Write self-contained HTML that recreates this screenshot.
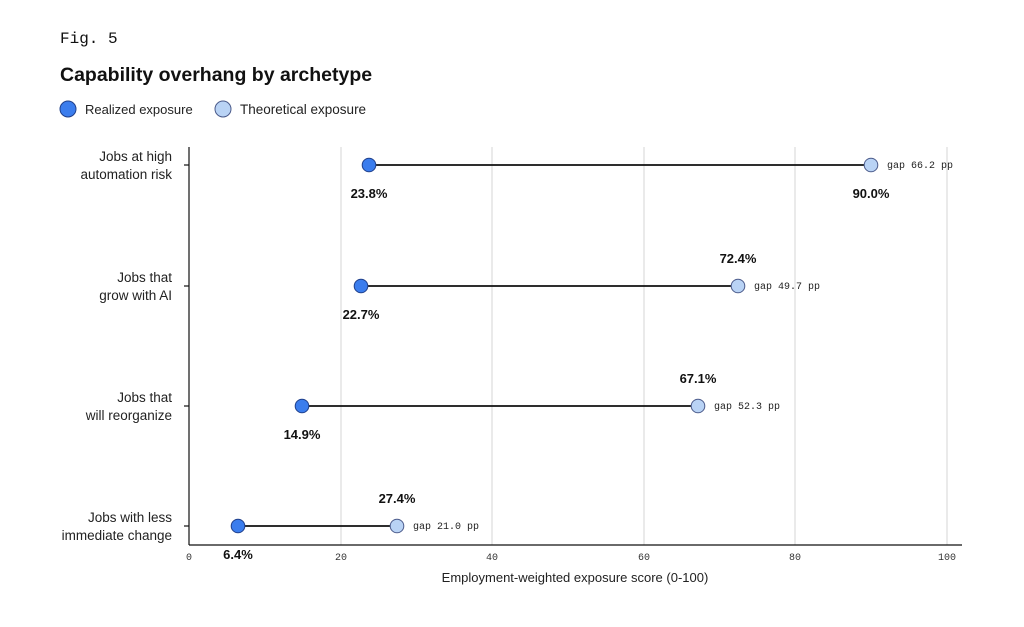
<!DOCTYPE html><html><head><style>body{margin:0;background:#fff}svg{display:block}</style></head><body>
<svg width="1024" height="627" xmlns="http://www.w3.org/2000/svg" font-family="Liberation Sans, sans-serif">
<text x="60" y="43" font-family="Liberation Mono, monospace" font-size="16" fill="#111">Fig. 5</text>
<text x="60" y="81" font-size="19.5" font-weight="bold" fill="#111">Capability overhang by archetype</text>
<circle cx="68" cy="109" r="8" fill="#3b7ded" stroke="#1f3f8a" stroke-width="1"/>
<text x="85" y="114" font-size="13" fill="#222">Realized exposure</text>
<circle cx="223" cy="109" r="8" fill="#b9d3f5" stroke="#4a5a8a" stroke-width="1"/>
<text x="240" y="114" font-size="13.5" fill="#222">Theoretical exposure</text>
<g stroke="#d6d6d6" stroke-width="1">
<line x1="341" y1="147" x2="341" y2="545"/><line x1="492" y1="147" x2="492" y2="545"/><line x1="644" y1="147" x2="644" y2="545"/><line x1="795" y1="147" x2="795" y2="545"/><line x1="947" y1="147" x2="947" y2="545"/>
</g>
<g stroke="#111" stroke-width="1.2">
<line x1="189" y1="147" x2="189" y2="545"/><line x1="189" y1="545" x2="962" y2="545"/>
<line x1="184" y1="165" x2="189" y2="165"/><line x1="184" y1="286" x2="189" y2="286"/><line x1="184" y1="406" x2="189" y2="406"/><line x1="184" y1="526" x2="189" y2="526"/>
</g>
<g font-family="Liberation Mono, monospace" font-size="10" fill="#333" text-anchor="middle">
<text x="189" y="560">0</text><text x="341" y="560">20</text><text x="492" y="560">40</text><text x="644" y="560">60</text><text x="795" y="560">80</text><text x="947" y="560">100</text>
</g>
<text x="575" y="582" font-size="13" fill="#222" text-anchor="middle">Employment-weighted exposure score (0-100)</text>
<g font-size="13.5" fill="#222" text-anchor="end">
<text x="172" y="161">Jobs at high</text><text x="172" y="179">automation risk</text>
<text x="172" y="282">Jobs that</text><text x="172" y="300">grow with AI</text>
<text x="172" y="402">Jobs that</text><text x="172" y="420">will reorganize</text>
<text x="172" y="522">Jobs with less</text><text x="172" y="540">immediate change</text>
</g>
<g stroke="#111" stroke-width="1.8">
<line x1="369" y1="165" x2="871" y2="165"/><line x1="361" y1="286" x2="738" y2="286"/><line x1="302" y1="406" x2="698" y2="406"/><line x1="238" y1="526" x2="397" y2="526"/>
</g>
<g fill="#3b7ded" stroke="#1f3f8a" stroke-width="1">
<circle cx="369" cy="165" r="6.8"/><circle cx="361" cy="286" r="6.8"/><circle cx="302" cy="406" r="6.8"/><circle cx="238" cy="526" r="6.8"/>
</g>
<g fill="#b9d3f5" stroke="#4a5a8a" stroke-width="1">
<circle cx="871" cy="165" r="6.8"/><circle cx="738" cy="286" r="6.8"/><circle cx="698" cy="406" r="6.8"/><circle cx="397" cy="526" r="6.8"/>
</g>
<g font-size="13" font-weight="bold" fill="#111" text-anchor="middle">
<text x="369" y="198">23.8%</text><text x="871" y="198">90.0%</text>
<text x="361" y="319">22.7%</text><text x="738" y="263">72.4%</text>
<text x="302" y="439">14.9%</text><text x="698" y="383">67.1%</text>
<text x="238" y="559">6.4%</text><text x="397" y="503">27.4%</text>
</g>
<g font-family="Liberation Mono, monospace" font-size="10" fill="#222">
<text x="887" y="168">gap 66.2 pp</text><text x="754" y="289">gap 49.7 pp</text><text x="714" y="409">gap 52.3 pp</text><text x="413" y="529">gap 21.0 pp</text>
</g>
</svg></body></html>
